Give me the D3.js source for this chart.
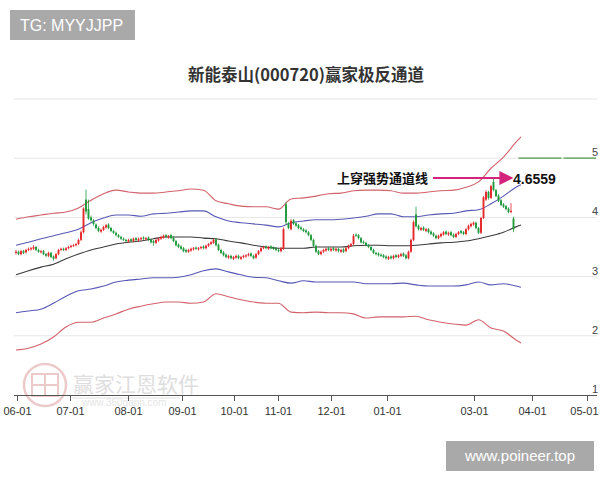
<!DOCTYPE html>
<html><head><meta charset="utf-8">
<script src="https://cdn.jsdelivr.net/npm/d3@7/dist/d3.min.js"></script>
<style>body{margin:0;background:#fff}svg{display:block}</style>
</head><body>
<svg id="c" width="600" height="480"></svg>
<script>
const titleText = "新能泰山(000720)赢家极反通道";
const tickLabels = ["06-01","07-01","08-01","09-01","10-01","11-01","12-01","01-01","03-01","04-01","05-01"];
const tickIdx = [0.4,21.6,44.8,66.4,87.2,104.8,126,148.4,183.2,206.4,228.4];
const yTicks = [1,2,3,4,5,6];

const opens = [3.40,3.42,3.38,3.43,3.41,3.45,3.46,3.47,3.50,3.45,
3.41,3.43,3.38,3.35,3.40,3.34,3.31,3.38,3.45,3.47,
3.45,3.48,3.50,3.52,3.53,3.55,3.62,3.75,4.30,4.14,
4.00,3.95,3.88,3.82,3.76,3.79,3.83,3.88,3.82,3.77,
3.74,3.70,3.67,3.64,3.62,3.59,3.63,3.60,3.65,3.61,
3.63,3.66,3.63,3.66,3.62,3.60,3.57,3.61,3.64,3.66,
3.70,3.66,3.70,3.66,3.60,3.54,3.51,3.48,3.45,3.42,
3.44,3.46,3.49,3.46,3.48,3.51,3.48,3.52,3.55,3.57,
3.63,3.54,3.45,3.41,3.37,3.32,3.35,3.30,3.32,3.35,
3.30,3.33,3.34,3.36,3.39,3.35,3.32,3.38,3.43,3.48,
3.51,3.47,3.51,3.49,3.47,3.45,3.43,3.47,4.22,3.90,
3.80,3.95,3.90,3.87,3.83,3.80,3.78,3.75,3.70,3.62,
3.52,3.43,3.38,3.42,3.44,3.48,3.44,3.48,3.44,3.47,
3.42,3.46,3.43,3.48,3.52,3.55,3.71,3.70,3.65,3.59,
3.57,3.53,3.50,3.45,3.40,3.39,3.37,3.36,3.34,3.30,
3.34,3.31,3.36,3.33,3.35,3.39,3.36,3.31,3.42,3.62,
4.05,3.86,3.79,3.83,3.77,3.80,3.76,3.73,3.69,3.65,
3.68,3.71,3.76,3.71,3.75,3.71,3.67,3.72,3.77,3.75,
3.72,3.80,3.85,3.88,3.91,3.82,3.74,3.99,4.30,4.43,
4.33,4.60,4.46,4.37,4.29,4.22,4.19,4.15,4.09,3.98];
const closes = [3.42,3.38,3.43,3.40,3.45,3.47,3.48,3.50,3.45,3.42,
3.43,3.38,3.35,3.40,3.33,3.30,3.38,3.45,3.47,3.45,
3.48,3.50,3.52,3.53,3.55,3.62,3.75,4.15,4.10,3.98,
3.95,3.89,3.82,3.77,3.79,3.84,3.87,3.82,3.77,3.74,
3.70,3.67,3.64,3.62,3.60,3.62,3.60,3.64,3.62,3.64,
3.65,3.64,3.65,3.62,3.58,3.57,3.62,3.64,3.67,3.69,
3.67,3.69,3.65,3.60,3.53,3.50,3.47,3.43,3.42,3.45,
3.47,3.48,3.47,3.48,3.50,3.48,3.52,3.55,3.58,3.62,
3.53,3.45,3.40,3.36,3.33,3.35,3.31,3.33,3.35,3.31,
3.33,3.35,3.36,3.38,3.35,3.31,3.38,3.43,3.48,3.50,
3.48,3.50,3.48,3.47,3.45,3.43,3.48,3.80,3.92,3.82,
3.94,3.89,3.86,3.82,3.80,3.77,3.75,3.70,3.62,3.52,
3.42,3.38,3.42,3.45,3.47,3.45,3.47,3.45,3.47,3.43,
3.45,3.42,3.48,3.52,3.55,3.69,3.69,3.65,3.58,3.57,
3.53,3.50,3.45,3.40,3.38,3.36,3.35,3.33,3.31,3.33,
3.31,3.35,3.33,3.36,3.38,3.35,3.31,3.42,3.62,3.92,
3.85,3.80,3.82,3.79,3.80,3.75,3.72,3.69,3.65,3.69,
3.72,3.75,3.72,3.74,3.70,3.67,3.72,3.75,3.74,3.72,
3.80,3.86,3.89,3.91,3.82,3.74,3.99,4.34,4.43,4.33,
4.53,4.46,4.36,4.28,4.21,4.18,4.14,4.09,4.11,3.80];
const highs = [3.45,3.44,3.45,3.45,3.47,3.49,3.50,3.53,3.52,3.47,
3.45,3.45,3.40,3.42,3.42,3.36,3.40,3.47,3.49,3.49,
3.50,3.52,3.54,3.55,3.57,3.64,3.78,4.17,4.47,4.30,
4.03,3.97,3.90,3.85,3.81,3.86,3.89,3.90,3.84,3.79,
3.76,3.72,3.69,3.66,3.64,3.64,3.65,3.66,3.67,3.66,
3.67,3.68,3.67,3.68,3.64,3.62,3.64,3.66,3.69,3.71,
3.72,3.70,3.72,3.68,3.62,3.56,3.53,3.50,3.47,3.47,
3.49,3.50,3.51,3.50,3.52,3.53,3.54,3.57,3.60,3.64,
3.65,3.56,3.47,3.43,3.39,3.37,3.37,3.35,3.37,3.37,
3.35,3.37,3.38,3.40,3.41,3.37,3.40,3.45,3.50,3.52,
3.53,3.52,3.53,3.51,3.49,3.47,3.50,3.83,4.26,3.92,
3.97,3.97,3.92,3.89,3.85,3.82,3.80,3.77,3.72,3.64,
3.54,3.45,3.44,3.47,3.49,3.50,3.49,3.50,3.49,3.49,
3.47,3.48,3.50,3.54,3.57,3.72,3.73,3.72,3.67,3.61,
3.59,3.55,3.52,3.47,3.42,3.41,3.39,3.38,3.36,3.35,
3.36,3.37,3.38,3.38,3.40,3.41,3.38,3.44,3.64,3.95,
4.18,3.88,3.84,3.85,3.82,3.82,3.78,3.75,3.71,3.71,
3.74,3.77,3.78,3.76,3.77,3.73,3.74,3.77,3.79,3.77,
3.82,3.88,3.91,3.93,3.93,3.84,4.01,4.36,4.46,4.45,
4.55,4.655,4.48,4.39,4.31,4.24,4.21,4.17,4.24,4.01];
const lows = [3.37,3.36,3.36,3.38,3.39,3.43,3.44,3.45,3.43,3.40,
3.39,3.36,3.33,3.33,3.31,3.27,3.29,3.36,3.43,3.43,
3.43,3.46,3.48,3.50,3.51,3.53,3.60,3.73,4.05,3.96,
3.93,3.86,3.80,3.75,3.74,3.77,3.81,3.80,3.75,3.72,
3.68,3.65,3.62,3.60,3.58,3.57,3.58,3.58,3.60,3.59,
3.61,3.62,3.61,3.60,3.56,3.52,3.55,3.59,3.62,3.64,
3.65,3.64,3.63,3.58,3.51,3.48,3.45,3.41,3.40,3.40,
3.42,3.44,3.45,3.44,3.46,3.46,3.46,3.50,3.53,3.55,
3.51,3.43,3.38,3.34,3.31,3.30,3.29,3.28,3.30,3.29,
3.28,3.31,3.32,3.34,3.33,3.29,3.30,3.36,3.41,3.46,
3.46,3.45,3.46,3.45,3.43,3.41,3.41,3.45,3.88,3.80,
3.78,3.87,3.84,3.80,3.78,3.75,3.73,3.68,3.60,3.50,
3.40,3.36,3.36,3.40,3.42,3.43,3.42,3.43,3.42,3.41,
3.40,3.40,3.41,3.46,3.50,3.53,3.67,3.63,3.56,3.55,
3.51,3.48,3.43,3.38,3.36,3.34,3.33,3.31,3.29,3.28,
3.29,3.29,3.31,3.31,3.33,3.33,3.29,3.29,3.40,3.60,
3.83,3.78,3.77,3.77,3.75,3.73,3.70,3.67,3.63,3.63,
3.66,3.69,3.70,3.69,3.68,3.65,3.65,3.70,3.72,3.70,
3.70,3.78,3.83,3.86,3.80,3.72,3.72,3.97,4.28,4.30,
4.31,4.44,4.34,4.26,4.19,4.16,4.12,4.07,4.07,3.75];

const bandIdx = [0,5,10,15,20,25,30,35,40,45,50,55,60,65,70,75,80,85,90,95,100,105,110,115,120,125,130,135,140,145,150,155,160,165,170,175,180,185,190,195,200,202];
const midLine = [3.03,3.10,3.16,3.21,3.30,3.38,3.45,3.50,3.55,3.58,3.60,3.64,3.67,3.67,3.67,3.65,3.64,3.60,3.57,3.53,3.50,3.48,3.48,3.48,3.50,3.50,3.50,3.52,3.53,3.53,3.52,3.52,3.53,3.55,3.57,3.58,3.60,3.64,3.69,3.75,3.84,3.87];
const upperBlue = [3.53,3.58,3.64,3.69,3.74,3.80,3.91,3.99,4.04,4.04,4.02,4.06,4.07,4.09,4.11,4.11,4.01,3.94,3.91,3.89,3.87,3.84,3.91,3.94,3.96,3.96,3.97,3.99,4.02,4.06,4.06,4.01,4.01,4.04,4.06,4.07,4.11,4.13,4.23,4.36,4.51,4.55];
const upperRed = [3.97,4.01,4.04,4.07,4.09,4.16,4.29,4.40,4.46,4.43,4.41,4.41,4.43,4.45,4.48,4.46,4.28,4.23,4.19,4.18,4.18,4.14,4.31,4.33,4.36,4.40,4.41,4.45,4.46,4.46,4.45,4.41,4.41,4.43,4.45,4.46,4.51,4.60,4.83,5.02,5.27,5.36];
const lowerBlue = [2.39,2.42,2.45,2.55,2.67,2.76,2.79,2.84,2.91,2.94,2.96,2.98,2.98,2.99,3.03,3.10,3.13,3.08,3.03,2.99,2.98,2.93,2.89,2.93,2.91,2.91,2.91,2.91,2.88,2.88,2.88,2.89,2.86,2.84,2.84,2.84,2.86,2.91,2.86,2.88,2.84,2.82];
const lowerRed = [1.76,1.79,1.86,1.98,2.15,2.23,2.23,2.30,2.37,2.45,2.50,2.54,2.57,2.57,2.55,2.57,2.71,2.66,2.61,2.57,2.55,2.55,2.40,2.39,2.40,2.39,2.39,2.37,2.30,2.32,2.32,2.32,2.33,2.27,2.23,2.20,2.18,2.27,2.13,2.08,1.93,1.88];

const signalIdx = [201, 232];
const signalVal = [5.0, 5.0];
const annoText = "上穿强势通道线";
const annoValue = "4.6559";
const annoLevel = 4.6559;

const svg = d3.select("#c");
const x = d3.scaleLinear().domain([0,232]).range([16,596]);
const y = d3.scaleLinear().domain([1,6]).range([395,99]);
const sans = "'Liberation Sans', Arial, sans-serif";
const cjk = "'Noto Sans CJK SC', sans-serif";

// badge top-left
svg.append("rect").attr("x",10).attr("y",10).attr("width",125).attr("height",30).attr("fill","#a9a9a9");
svg.append("text").attr("x",20).attr("y",31).attr("fill","#fff").attr("font-family",sans).attr("font-size",16).text("TG: MYYJJPP");

// title
svg.append("text").attr("x",306).attr("y",81).attr("text-anchor","middle").attr("font-family",cjk)
  .attr("font-weight","bold").attr("font-size",16.5).attr("fill","#333").text(titleText);

// grid
svg.append("g").selectAll("line").data(yTicks.filter(d=>d>1)).join("line")
  .attr("x1",14).attr("x2",597).attr("y1",d=>y(d)).attr("y2",d=>y(d))
  .attr("stroke","#e6e6e6").attr("stroke-width",1);
svg.append("g").selectAll("text").data(yTicks.filter(d=>d<6)).join("text")
  .attr("x",598).attr("y",d=>y(d)-2).attr("text-anchor","end")
  .attr("font-family",sans).attr("font-size",11).attr("fill","#444").text(d=>d);

// watermark
const wm = svg.append("g").attr("opacity",0.55);
wm.append("circle").attr("cx",45).attr("cy",385).attr("r",21).attr("fill","none").attr("stroke","#e0a0a0").attr("stroke-width",2.5);
wm.append("rect").attr("x",32).attr("y",374).attr("width",26).attr("height",22).attr("fill","none").attr("stroke","#e0a0a0").attr("stroke-width",2);
wm.append("line").attr("x1",45).attr("x2",45).attr("y1",374).attr("y2",396).attr("stroke","#e0a0a0").attr("stroke-width",2);
wm.append("line").attr("x1",32).attr("x2",58).attr("y1",385).attr("y2",385).attr("stroke","#e0a0a0").attr("stroke-width",2);
wm.append("text").attr("x",73).attr("y",392).attr("font-family",cjk).attr("font-size",21).attr("fill","#c4c4c4").text("赢家江恩软件");
wm.append("line").attr("x1",72).attr("x2",180).attr("y1",398).attr("y2",398).attr("stroke","#ccc");
wm.append("text").attr("x",82).attr("y",406).attr("font-family",sans).attr("font-size",10).attr("fill","#cfcfcf").text("www.360gann.com");

// band lines
const pts = arr => arr.map((v,i)=>[bandIdx[i], v]);
const line = d3.line().x(d=>x(d[0])).y(d=>y(d[1])).curve(d3.curveMonotoneX);
const bands = [
  {d: upperRed, c:"#d2626c"},
  {d: lowerRed, c:"#d2626c"},
  {d: upperBlue, c:"#5858b4"},
  {d: lowerBlue, c:"#5858b4"},
  {d: midLine, c:"#3a3a3a"}
];
svg.append("g").selectAll("path").data(bands).join("path")
  .attr("d", b=>line(pts(b.d))).attr("fill","none").attr("stroke",b=>b.c).attr("stroke-width",1.1);

// candles
const candles = closes.map((c,i)=>({i, o:opens[i], c, h:highs[i], l:lows[i]}));
const up = "#e5262b", dn = "#1f9a3c";
const cg = svg.append("g");
cg.selectAll("line").data(candles).join("line")
  .attr("x1",d=>x(d.i)).attr("x2",d=>x(d.i)).attr("y1",d=>y(d.h)).attr("y2",d=>y(d.l))
  .attr("stroke",d=>d.c>=d.o?up:dn).attr("stroke-width",0.8);
cg.selectAll("rect").data(candles).join("rect")
  .attr("x",d=>x(d.i)-0.95).attr("width",1.9)
  .attr("y",d=>y(Math.max(d.o,d.c))).attr("height",d=>Math.max(0.9, Math.abs(y(d.o)-y(d.c))))
  .attr("fill",d=>d.c>=d.o?up:dn);

// signal line (green)
svg.append("line").attr("x1",x(signalIdx[0])).attr("x2",x(signalIdx[1]))
  .attr("y1",y(signalVal[0])).attr("y2",y(signalVal[1]))
  .attr("stroke","#4f9a4f").attr("stroke-width",1.2).attr("stroke-dasharray","43,2");

// x axis
const ax = svg.append("g").attr("transform","translate(0,395)")
  .call(d3.axisBottom(x).tickValues(tickIdx).tickFormat((d,i)=>tickLabels[i]).tickSize(6).tickSizeOuter(0));
ax.select(".domain").attr("stroke","#555").attr("d","M14,0.5H597");
ax.selectAll(".tick line").attr("stroke","#555");
ax.selectAll(".tick text").attr("font-family",sans).attr("font-size",11).attr("fill","#333").attr("dy","1.0em");
ax.selectAll(".tick text").filter((d,i)=>i===tickLabels.length-1).attr("text-anchor","end").attr("x",11);

// annotation
const ay = y(annoLevel)-0.5;
svg.append("defs").append("marker").attr("id","ah").attr("viewBox","0 0 10 10").attr("refX",9).attr("refY",5)
  .attr("markerWidth",7).attr("markerHeight",7).attr("orient","auto")
  .append("path").attr("d","M0,0L10,5L0,10z").attr("fill","#d4237a");
svg.append("line").attr("x1",433).attr("x2",512).attr("y1",ay).attr("y2",ay)
  .attr("stroke","#d4237a").attr("stroke-width",2).attr("marker-end","url(#ah)");
svg.append("text").attr("x",337).attr("y",ay+5).attr("font-family",cjk).attr("font-weight","bold")
  .attr("font-size",13).attr("fill","#111").text(annoText);
svg.append("text").attr("x",513).attr("y",ay+5.5).attr("font-family",sans).attr("font-weight","bold")
  .attr("font-size",14).attr("fill","#111").text(annoValue);

// bottom-right badge
svg.append("rect").attr("x",446).attr("y",441).attr("width",148).attr("height",30).attr("fill","#a9a9a9");
svg.append("text").attr("x",520).attr("y",461).attr("text-anchor","middle").attr("fill","#fff")
  .attr("font-family",sans).attr("font-size",15).text("www.poineer.top");
</script>
</body></html>
